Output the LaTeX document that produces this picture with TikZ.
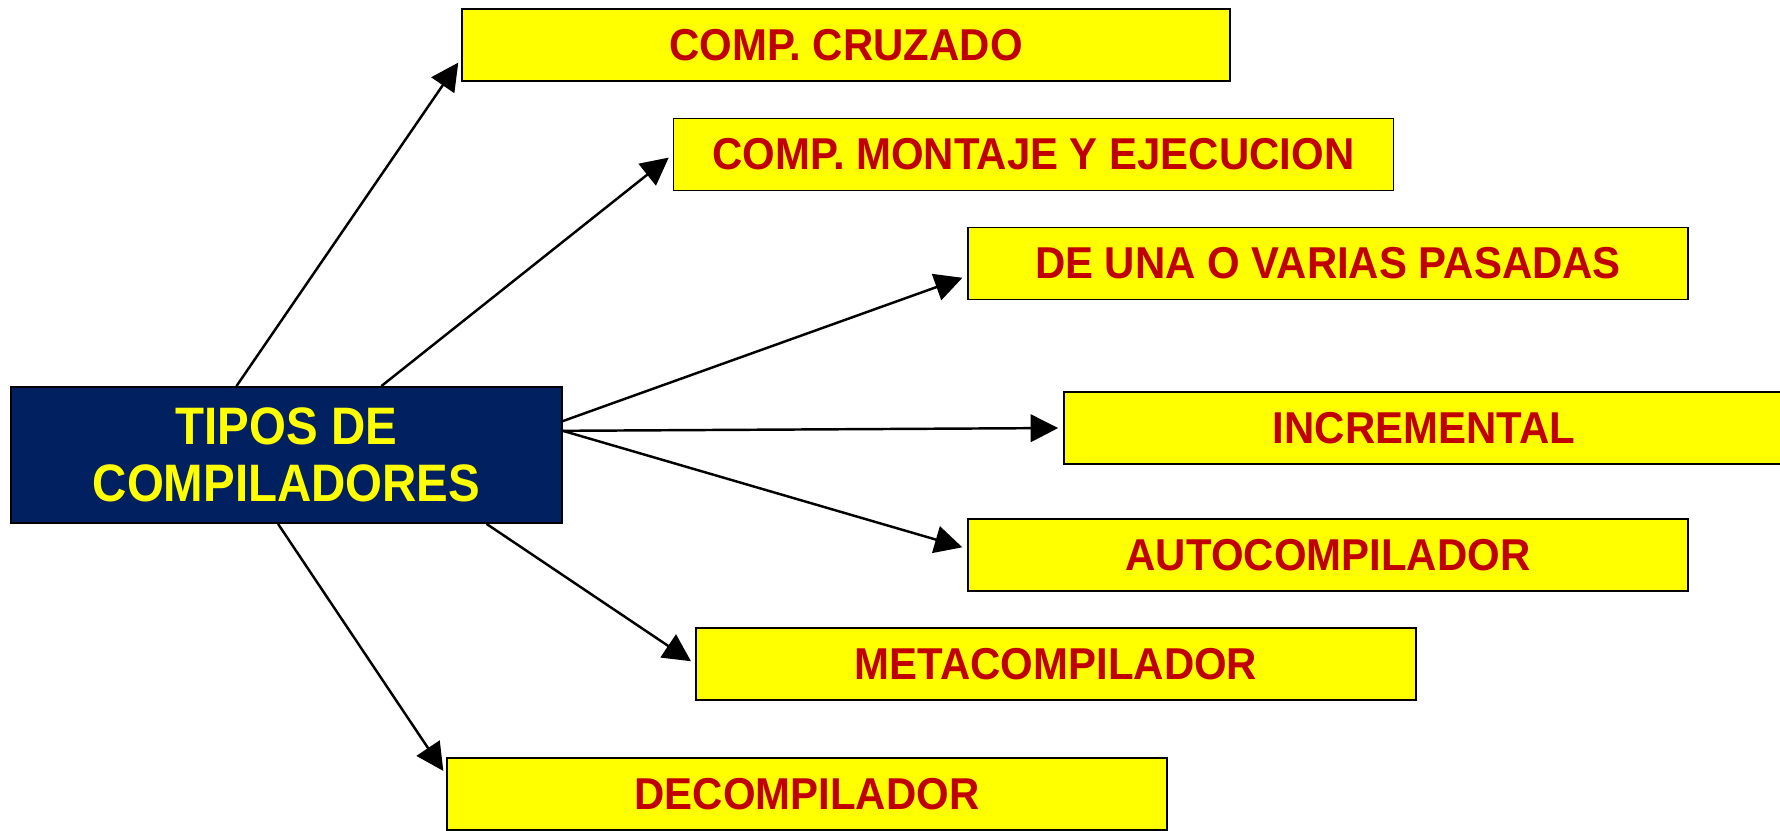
\documentclass[tikz,border=0pt]{standalone}
\usepackage{fontspec}
\setmainfont{Liberation Sans}
\newfontfamily\boxfont{Liberation Sans}[FakeStretch=0.94]
\newfontfamily\rootfont{Liberation Sans}[FakeStretch=0.9]
\usepackage{tikz}
\usetikzlibrary{arrows.meta}
\definecolor{boxyellow}{HTML}{FFFF00}
\definecolor{textred}{HTML}{C00000}
\definecolor{navy}{HTML}{002060}
\tikzstyle{tipo} = [rectangle, 
minimum width=14.4cm, 
minimum height=1.44cm,
text centered, 
draw=black, 
line width=1pt,
fill=boxyellow,
text=textred,
font=\boxfont\bfseries\fontsize{25.4}{30}\selectfont]
\tikzstyle{root} = [rectangle, 
minimum width=11.02cm, 
minimum height=2.72cm,
text centered, 
align=center,
draw=black, 
line width=1pt,
fill=navy,
text=boxyellow,
font=\rootfont\bfseries\fontsize{30}{32.5}\selectfont]
\tikzstyle{arrow} = [line width=1.4pt, -{Triangle[length=0.55cm, width=0.55cm]}, shorten >=0.1cm]

\begin{document}
\begin{tikzpicture}
			\useasboundingbox (0,0) rectangle (35.6,-16.6);
			
			\node (tipos) [root] at (5.73,-9.10) {TIPOS DE\\COMPILADORES};
			
			\node (cruzado) [tipo, minimum width=15.36cm] at (16.92,-0.90) {COMP. CRUZADO};
			\node (montaje) [tipo] at (20.67,-3.09) {COMP. MONTAJE Y EJECUCION};
			\node (pasadas) [tipo] at (26.56,-5.27) {DE UNA O VARIAS PASADAS};
			\node (incr) [tipo] at (28.48,-8.56) {INCREMENTAL};
			\node (auto) [tipo] at (26.56,-11.10) {AUTOCOMPILADOR};
			\node (meta) [tipo] at (21.12,-13.28) {METACOMPILADOR};
			\node (decomp) [tipo] at (16.14,-15.88) {DECOMPILADOR};
			
			\draw [arrow] (tipos.126) -- (cruzado.182);
			\draw [arrow] (tipos.36.6) -- (montaje.west);
			\draw [arrow] (tipos.7.2) -- (pasadas.182);
			\draw [arrow] (tipos.5.8) -- (incr.west);
			\draw [arrow] (tipos.5.8) -- (auto.179);
			\draw [arrow] (tipos.-19.2) -- (meta.west);
			\draw [arrow] (tipos.263.7) -- (decomp.177.5);
			
\end{tikzpicture}
\end{document}
